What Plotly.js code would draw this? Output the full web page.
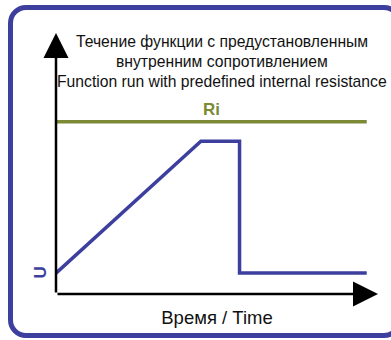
<!DOCTYPE html>
<html>
<head>
<meta charset="utf-8">
<script src="https://cdn.plot.ly/plotly-3.0.1.min.js"></script>
<style>
  body { margin: 0; background: #fff; overflow: hidden; }
  #wrap { position: relative; width: 391px; height: 340px; overflow: hidden; }
  #frame {
    position: absolute; left: 8px; top: 5px; width: 384px; height: 323px;
    border: 5px solid #3d3f9e; border-radius: 18px; pointer-events: none;
  }
  #plot { position: absolute; left: 0; top: 0; width: 391px; height: 340px; }
</style>
</head>
<body>
<div id="wrap">
  <div id="frame"></div>
  <div id="plot"></div>
</div>
<script>
// курва U(t)
const time = [0, 4.5, 5.7, 5.7, 9.65];
const voltage = [0.8, 5.85, 5.85, 0.8, 0.8];

// линия Ri
const riTime = [0, 9.65];
const riLevel = [6.6, 6.6];

const titleLines = [
  "Течение функции с предустановленным",
  "внутренним сопротивлением",
  "Function run with predefined internal resistance"
];

const blue = "#3d3f9e";
const olive = "#7d8a35";

const traceU = {
  x: time,
  y: voltage,
  type: "scatter",
  mode: "lines",
  line: { color: blue, width: 3.5 },
  hoverinfo: "skip"
};

const traceRi = {
  x: riTime,
  y: riLevel,
  type: "scatter",
  mode: "lines",
  line: { color: olive, width: 3.5 },
  hoverinfo: "skip"
};

// plot area: 56..378 px wide, 33..294 px high
const plotH = 261;
const titleY = [42, 61.5, 81].map(py => (294 - py) / plotH);

const titleAnn = titleLines.map((t, i) => ({
  xref: "paper", yref: "paper", x: (222 - 56) / 322, y: titleY[i],
  xanchor: "center", yanchor: "middle", showarrow: false, text: t,
  font: { size: 15.7, color: "#111" }
}));

const layout = {
  width: 391,
  height: 340,
  margin: { l: 56, r: 13, t: 33, b: 46 },
  paper_bgcolor: "rgba(0,0,0,0)",
  plot_bgcolor: "rgba(0,0,0,0)",
  showlegend: false,
  font: { family: "Liberation Sans, Arial, sans-serif", color: "#111" },
  xaxis: {
    range: [0, 10], showgrid: false, zeroline: false, showticklabels: false, ticks: "",
    title: { text: "Время / Time", font: { size: 18.5, color: "#111" }, standoff: 17 }
  },
  yaxis: {
    range: [0, 10], showgrid: false, zeroline: false, showticklabels: false, ticks: ""
  },
  annotations: titleAnn.concat([
    // ось Y со стрелкой
    { xref: "paper", yref: "paper", x: 0, y: 1, axref: "pixel", ayref: "pixel", ax: 0, ay: 261,
      showarrow: true, arrowhead: 2, arrowsize: 2, arrowwidth: 2.5, arrowcolor: "#000",
      standoff: 0, text: "" },
    // ось X со стрелкой
    { xref: "paper", yref: "paper", x: 1, y: 0, ax: -322, ay: 0,
      showarrow: true, arrowhead: 2, arrowsize: 2, arrowwidth: 2.5, arrowcolor: "#000",
      standoff: 0, text: "" },
    { x: (riTime[0] + riTime[1]) / 2, y: riLevel[0], text: "<b>Ri</b>", showarrow: false,
      yanchor: "bottom", yshift: 1, font: { size: 17, color: olive } },
    { xref: "paper", x: 0, xshift: -27, y: voltage[0], text: "<b>U</b>", showarrow: false,
      textangle: -90, font: { size: 17, color: blue } }
  ])
};

Plotly.newPlot("plot", [traceRi, traceU], layout, { staticPlot: true });
</script>
</body>
</html>
